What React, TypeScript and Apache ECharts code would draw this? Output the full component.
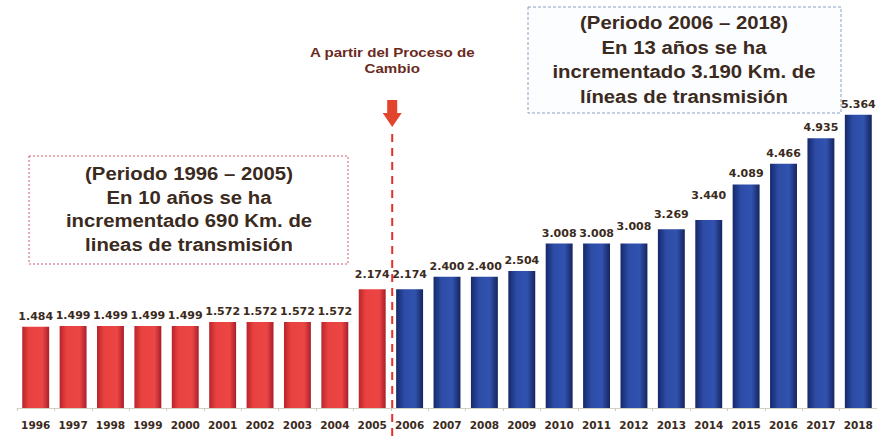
import React, { useEffect, useRef } from "react";
import * as echarts from "echarts";

const years = ["1996","1997","1998","1999","2000","2001","2002","2003","2004","2005","2006","2007","2008","2009","2010","2011","2012","2013","2014","2015","2016","2017","2018"];
const kmValues = [1484,1499,1499,1499,1499,1572,1572,1572,1572,2174,2174,2400,2400,2504,3008,3008,3008,3269,3440,4089,4466,4935,5364];
const valueLabels = ["1.484","1.499","1.499","1.499","1.499","1.572","1.572","1.572","1.572","2.174","2.174","2.400","2.400","2.504","3.008","3.008","3.008","3.269","3.440","4.089","4.466","4.935","5.364"];
const leftBoxLines = ["(Periodo 1996 – 2005)", "En 10 años se ha", "incrementado 690 Km. de", "lineas de transmisión"];
const rightBoxLines = ["(Periodo 2006 – 2018)", "En 13 años se ha", "incrementado 3.190 Km. de", "líneas de transmisión"];
const changeNote = "A partir del Proceso de\nCambio";
const splitIndex = 10;

const W = 877, H = 441;
const GRID_LEFT = 17, GRID_WIDTH = 863, GRID_TOP = 80, GRID_BOTTOM = 33;
const TEXT_COLOR = "#3b2a20";
const LABEL_FONT = "'DejaVu Sans', sans-serif";

const redGrad = () => new echarts.graphic.LinearGradient(0, 0, 1, 0, [
  { offset: 0, color: "#b8242c" },
  { offset: 0.25, color: "#e8413f" },
  { offset: 0.75, color: "#ec4644" },
  { offset: 1, color: "#a81f2a" },
]);
const blueGrad = () => new echarts.graphic.LinearGradient(0, 0, 1, 0, [
  { offset: 0, color: "#16286a" },
  { offset: 0.3, color: "#2c4ca6" },
  { offset: 0.7, color: "#3152ae" },
  { offset: 1, color: "#14245f" },
]);

const labelLift: Record<string, number> = { "2012": -7, "2013": -4, "2014": -14, "2005": -4, "2006": -4 };

export default function App() {
  const ref = useRef<HTMLDivElement>(null);
  useEffect(() => {
    document.body.style.margin = "0";
    const chart = echarts.init(ref.current!, null, { renderer: "svg" });
    const band = GRID_WIDTH / years.length;
    const splitX = GRID_LEFT + band * splitIndex;
    const boxText = (lines: string[], cx: number, y0: number, step: number) =>
      lines.map((t, i) => ({
        type: "text",
        x: cx,
        y: y0 + i * step,
        scaleX: 1.13,
        style: {
          text: t,
          fill: TEXT_COLOR,
          font: "bold 18px 'Liberation Sans', Arial, sans-serif",
          textAlign: "center",
          textVerticalAlign: "middle",
        },
      }));
    chart.setOption({
      animation: false,
      backgroundColor: "#ffffff",
      grid: { left: GRID_LEFT, width: GRID_WIDTH, top: GRID_TOP, bottom: GRID_BOTTOM, containLabel: false },
      xAxis: {
        type: "category",
        data: years,
        axisLine: { lineStyle: { color: "#d4d0c8", width: 1 } },
        axisTick: { show: true, length: 3, interval: 0, lineStyle: { color: "#cfcac0" } },
        axisLabel: {
          interval: 0,
          hideOverlap: false,
          color: TEXT_COLOR,
          fontWeight: "bold",
          fontSize: 10.5,
          margin: 11,
          fontFamily: LABEL_FONT,
        },
      },
      yAxis: { type: "value", min: 0, max: 6000, show: false, splitLine: { show: false } },
      series: [
        {
          type: "bar",
          barWidth: "72%",
          data: kmValues.map((v, i) => ({
            value: v,
            itemStyle: { color: i < splitIndex ? redGrad() : blueGrad() },
            label: { offset: [0, labelLift[years[i]] || 0] },
          })),
          label: {
            show: true,
            position: "top",
            distance: 5,
            color: TEXT_COLOR,
            fontWeight: "bold",
            fontSize: 11,
            fontFamily: LABEL_FONT,
            formatter: (p: any) => valueLabels[p.dataIndex],
          },
        },
      ],
      graphic: [
        {
          type: "line",
          shape: { x1: splitX, y1: 134, x2: splitX, y2: H },
          style: { stroke: "#e3302c", lineWidth: 2, lineDash: [8, 6] },
          z: 10,
        },
        {
          type: "polygon",
          shape: {
            points: [
              [splitX - 5, 100], [splitX + 5, 100], [splitX + 5, 113],
              [splitX + 9.5, 113], [splitX, 127], [splitX - 9.5, 113], [splitX - 5, 113],
            ],
          },
          style: { fill: "#e2442c" },
          z: 10,
        },
        {
          type: "text",
          x: splitX,
          y: 61,
          scaleX: 1.26,
          style: {
            text: changeNote,
            fill: "#6b2a1e",
            font: "bold 12px 'Liberation Sans', Arial, sans-serif",
            textAlign: "center",
            textVerticalAlign: "middle",
            lineHeight: 16,
          },
        },
        {
          type: "rect",
          shape: { x: 29, y: 156, width: 319, height: 108 },
          style: { fill: "#ffffff", stroke: "#d45a6a", lineWidth: 1, lineDash: [2, 2] },
        },
        ...boxText(leftBoxLines, 189, 174, 23.7),
        {
          type: "rect",
          shape: { x: 528, y: 7, width: 313, height: 106 },
          style: { fill: "#fbfdff", stroke: "#8aa0c8", lineWidth: 1, lineDash: [3, 2] },
        },
        ...boxText(rightBoxLines, 684, 23, 24.5),
      ],
    });
    return () => chart.dispose();
  }, []);
  return <div ref={ref} style={{ width: W, height: H }} />;
}
